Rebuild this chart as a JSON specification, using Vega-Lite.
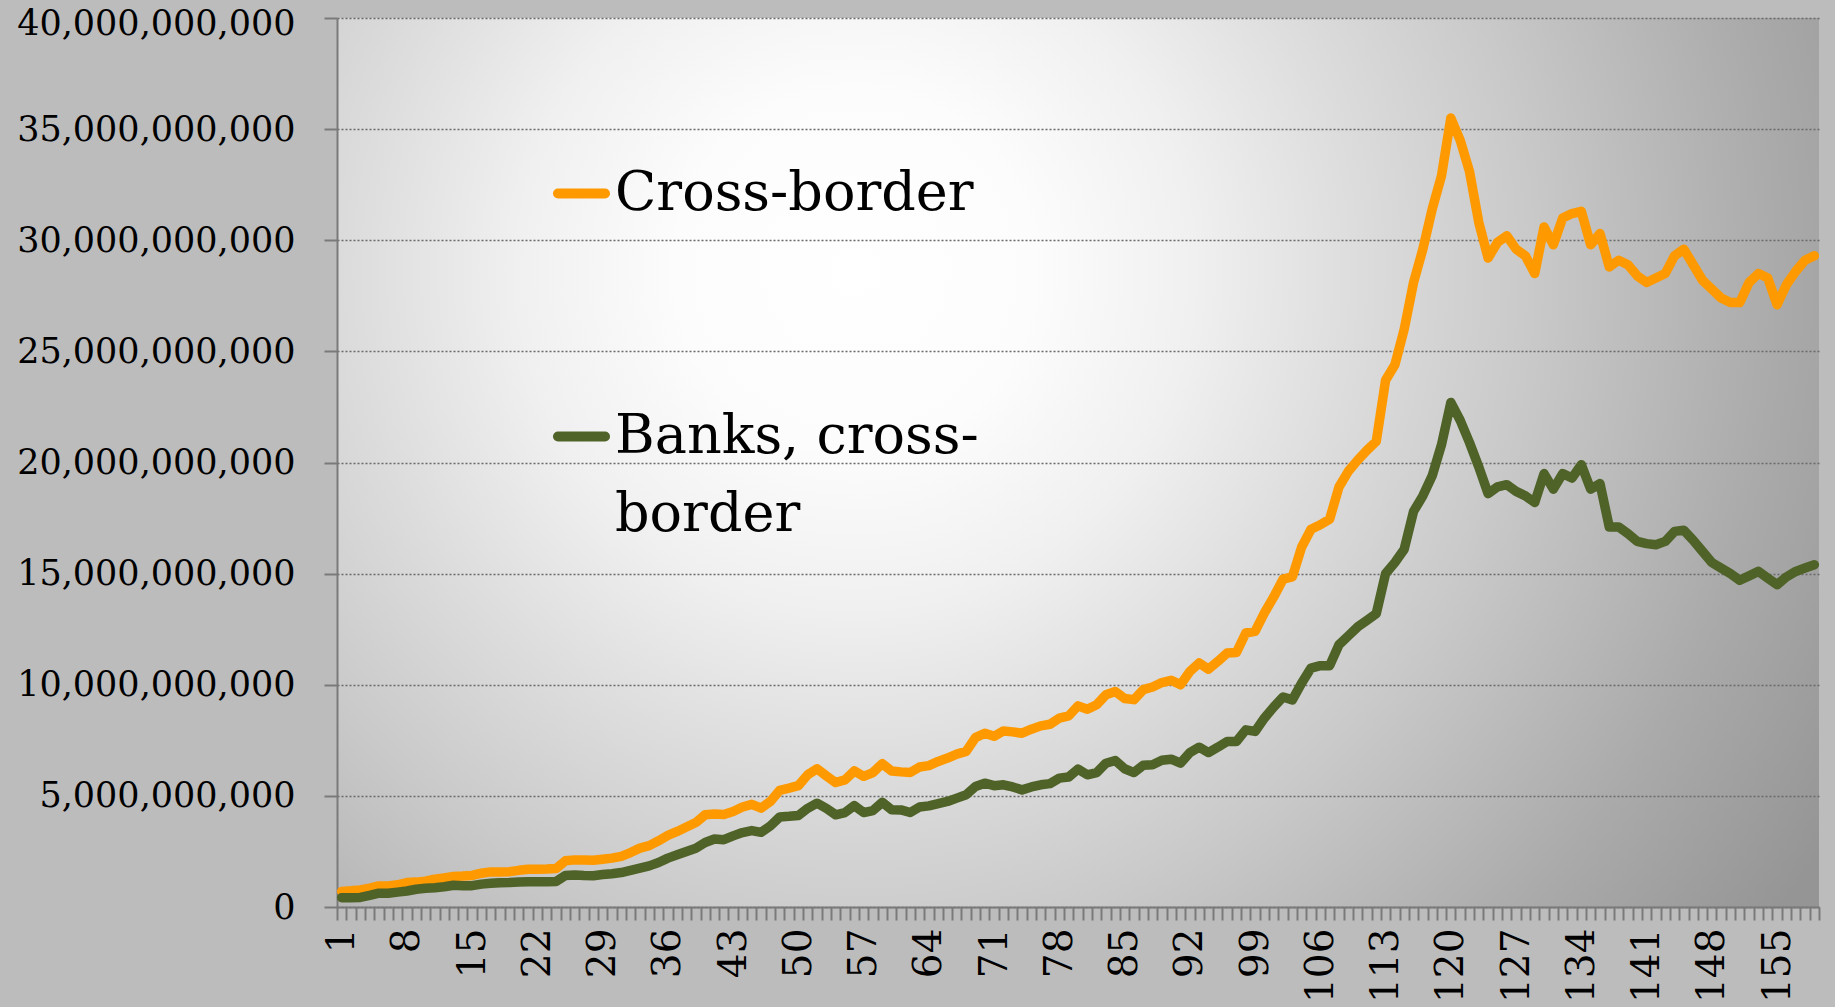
{
  "$schema": "https://vega.github.io/schema/vega-lite/v6.json",
  "width": 1482,
  "height": 889,
  "autosize": {"type": "none"},
  "padding": {"left": 337, "top": 18, "right": 16, "bottom": 100},
  "background": "#bcbcbc",
  "config": {
    "font": "DejaVu Serif",
    "view": {
      "stroke": null,
      "fill": {"gradient": "radial", "x1": 0.35, "y1": 0.37, "r1": 0, "x2": 0.35, "y2": 0.37, "r2": 0.76,
        "stops": [
          {"offset": 0, "color": "#ffffff"},
          {"offset": 0.16, "color": "#fcfcfc"},
          {"offset": 0.3, "color": "#f0f0f0"},
          {"offset": 0.45, "color": "#dcdcdc"},
          {"offset": 0.6, "color": "#c9c9c9"},
          {"offset": 0.82, "color": "#aaaaaa"},
          {"offset": 1, "color": "#959595"}
        ]}
    }
  },
  "data": {"values": [
    {"t":1,"Cross-border":700000000,"Banks, cross-border":420000000},
    {"t":2,"Cross-border":730000000,"Banks, cross-border":420000000},
    {"t":3,"Cross-border":770000000,"Banks, cross-border":430000000},
    {"t":4,"Cross-border":850000000,"Banks, cross-border":520000000},
    {"t":5,"Cross-border":950000000,"Banks, cross-border":620000000},
    {"t":6,"Cross-border":950000000,"Banks, cross-border":620000000},
    {"t":7,"Cross-border":1000000000,"Banks, cross-border":670000000},
    {"t":8,"Cross-border":1100000000,"Banks, cross-border":720000000},
    {"t":9,"Cross-border":1120000000,"Banks, cross-border":800000000},
    {"t":10,"Cross-border":1160000000,"Banks, cross-border":840000000},
    {"t":11,"Cross-border":1250000000,"Banks, cross-border":870000000},
    {"t":12,"Cross-border":1310000000,"Banks, cross-border":910000000},
    {"t":13,"Cross-border":1370000000,"Banks, cross-border":980000000},
    {"t":14,"Cross-border":1390000000,"Banks, cross-border":960000000},
    {"t":15,"Cross-border":1420000000,"Banks, cross-border":960000000},
    {"t":16,"Cross-border":1520000000,"Banks, cross-border":1030000000},
    {"t":17,"Cross-border":1580000000,"Banks, cross-border":1070000000},
    {"t":18,"Cross-border":1580000000,"Banks, cross-border":1090000000},
    {"t":19,"Cross-border":1590000000,"Banks, cross-border":1100000000},
    {"t":20,"Cross-border":1650000000,"Banks, cross-border":1120000000},
    {"t":21,"Cross-border":1700000000,"Banks, cross-border":1140000000},
    {"t":22,"Cross-border":1700000000,"Banks, cross-border":1140000000},
    {"t":23,"Cross-border":1710000000,"Banks, cross-border":1140000000},
    {"t":24,"Cross-border":1730000000,"Banks, cross-border":1150000000},
    {"t":25,"Cross-border":2080000000,"Banks, cross-border":1420000000},
    {"t":26,"Cross-border":2120000000,"Banks, cross-border":1440000000},
    {"t":27,"Cross-border":2110000000,"Banks, cross-border":1420000000},
    {"t":28,"Cross-border":2100000000,"Banks, cross-border":1410000000},
    {"t":29,"Cross-border":2150000000,"Banks, cross-border":1460000000},
    {"t":30,"Cross-border":2200000000,"Banks, cross-border":1500000000},
    {"t":31,"Cross-border":2280000000,"Banks, cross-border":1550000000},
    {"t":32,"Cross-border":2450000000,"Banks, cross-border":1650000000},
    {"t":33,"Cross-border":2650000000,"Banks, cross-border":1750000000},
    {"t":34,"Cross-border":2760000000,"Banks, cross-border":1850000000},
    {"t":35,"Cross-border":2980000000,"Banks, cross-border":2000000000},
    {"t":36,"Cross-border":3220000000,"Banks, cross-border":2200000000},
    {"t":37,"Cross-border":3400000000,"Banks, cross-border":2350000000},
    {"t":38,"Cross-border":3600000000,"Banks, cross-border":2500000000},
    {"t":39,"Cross-border":3800000000,"Banks, cross-border":2640000000},
    {"t":40,"Cross-border":4150000000,"Banks, cross-border":2900000000},
    {"t":41,"Cross-border":4180000000,"Banks, cross-border":3060000000},
    {"t":42,"Cross-border":4160000000,"Banks, cross-border":3030000000},
    {"t":43,"Cross-border":4300000000,"Banks, cross-border":3200000000},
    {"t":44,"Cross-border":4500000000,"Banks, cross-border":3350000000},
    {"t":45,"Cross-border":4620000000,"Banks, cross-border":3440000000},
    {"t":46,"Cross-border":4450000000,"Banks, cross-border":3360000000},
    {"t":47,"Cross-border":4750000000,"Banks, cross-border":3650000000},
    {"t":48,"Cross-border":5250000000,"Banks, cross-border":4050000000},
    {"t":49,"Cross-border":5350000000,"Banks, cross-border":4080000000},
    {"t":50,"Cross-border":5460000000,"Banks, cross-border":4120000000},
    {"t":51,"Cross-border":5950000000,"Banks, cross-border":4440000000},
    {"t":52,"Cross-border":6220000000,"Banks, cross-border":4670000000},
    {"t":53,"Cross-border":5900000000,"Banks, cross-border":4440000000},
    {"t":54,"Cross-border":5600000000,"Banks, cross-border":4150000000},
    {"t":55,"Cross-border":5720000000,"Banks, cross-border":4250000000},
    {"t":56,"Cross-border":6120000000,"Banks, cross-border":4560000000},
    {"t":57,"Cross-border":5880000000,"Banks, cross-border":4250000000},
    {"t":58,"Cross-border":6050000000,"Banks, cross-border":4340000000},
    {"t":59,"Cross-border":6450000000,"Banks, cross-border":4710000000},
    {"t":60,"Cross-border":6120000000,"Banks, cross-border":4380000000},
    {"t":61,"Cross-border":6080000000,"Banks, cross-border":4370000000},
    {"t":62,"Cross-border":6050000000,"Banks, cross-border":4250000000},
    {"t":63,"Cross-border":6300000000,"Banks, cross-border":4500000000},
    {"t":64,"Cross-border":6360000000,"Banks, cross-border":4550000000},
    {"t":65,"Cross-border":6550000000,"Banks, cross-border":4650000000},
    {"t":66,"Cross-border":6700000000,"Banks, cross-border":4750000000},
    {"t":67,"Cross-border":6880000000,"Banks, cross-border":4900000000},
    {"t":68,"Cross-border":7000000000,"Banks, cross-border":5050000000},
    {"t":69,"Cross-border":7620000000,"Banks, cross-border":5420000000},
    {"t":70,"Cross-border":7820000000,"Banks, cross-border":5570000000},
    {"t":71,"Cross-border":7680000000,"Banks, cross-border":5460000000},
    {"t":72,"Cross-border":7920000000,"Banks, cross-border":5500000000},
    {"t":73,"Cross-border":7880000000,"Banks, cross-border":5400000000},
    {"t":74,"Cross-border":7820000000,"Banks, cross-border":5270000000},
    {"t":75,"Cross-border":8000000000,"Banks, cross-border":5400000000},
    {"t":76,"Cross-border":8150000000,"Banks, cross-border":5500000000},
    {"t":77,"Cross-border":8220000000,"Banks, cross-border":5550000000},
    {"t":78,"Cross-border":8500000000,"Banks, cross-border":5800000000},
    {"t":79,"Cross-border":8600000000,"Banks, cross-border":5850000000},
    {"t":80,"Cross-border":9050000000,"Banks, cross-border":6200000000},
    {"t":81,"Cross-border":8900000000,"Banks, cross-border":5950000000},
    {"t":82,"Cross-border":9100000000,"Banks, cross-border":6050000000},
    {"t":83,"Cross-border":9550000000,"Banks, cross-border":6470000000},
    {"t":84,"Cross-border":9700000000,"Banks, cross-border":6590000000},
    {"t":85,"Cross-border":9380000000,"Banks, cross-border":6220000000},
    {"t":86,"Cross-border":9330000000,"Banks, cross-border":6050000000},
    {"t":87,"Cross-border":9780000000,"Banks, cross-border":6380000000},
    {"t":88,"Cross-border":9900000000,"Banks, cross-border":6400000000},
    {"t":89,"Cross-border":10100000000,"Banks, cross-border":6600000000},
    {"t":90,"Cross-border":10200000000,"Banks, cross-border":6650000000},
    {"t":91,"Cross-border":10000000000,"Banks, cross-border":6470000000},
    {"t":92,"Cross-border":10600000000,"Banks, cross-border":6950000000},
    {"t":93,"Cross-border":10980000000,"Banks, cross-border":7190000000},
    {"t":94,"Cross-border":10700000000,"Banks, cross-border":6950000000},
    {"t":95,"Cross-border":11050000000,"Banks, cross-border":7190000000},
    {"t":96,"Cross-border":11430000000,"Banks, cross-border":7450000000},
    {"t":97,"Cross-border":11450000000,"Banks, cross-border":7450000000},
    {"t":98,"Cross-border":12330000000,"Banks, cross-border":7970000000},
    {"t":99,"Cross-border":12400000000,"Banks, cross-border":7900000000},
    {"t":100,"Cross-border":13230000000,"Banks, cross-border":8500000000},
    {"t":101,"Cross-border":13950000000,"Banks, cross-border":9000000000},
    {"t":102,"Cross-border":14750000000,"Banks, cross-border":9450000000},
    {"t":103,"Cross-border":14850000000,"Banks, cross-border":9320000000},
    {"t":104,"Cross-border":16200000000,"Banks, cross-border":10080000000},
    {"t":105,"Cross-border":17000000000,"Banks, cross-border":10750000000},
    {"t":106,"Cross-border":17200000000,"Banks, cross-border":10860000000},
    {"t":107,"Cross-border":17450000000,"Banks, cross-border":10860000000},
    {"t":108,"Cross-border":18900000000,"Banks, cross-border":11800000000},
    {"t":109,"Cross-border":19600000000,"Banks, cross-border":12200000000},
    {"t":110,"Cross-border":20100000000,"Banks, cross-border":12600000000},
    {"t":111,"Cross-border":20550000000,"Banks, cross-border":12900000000},
    {"t":112,"Cross-border":20950000000,"Banks, cross-border":13200000000},
    {"t":113,"Cross-border":23700000000,"Banks, cross-border":15000000000},
    {"t":114,"Cross-border":24400000000,"Banks, cross-border":15500000000},
    {"t":115,"Cross-border":26000000000,"Banks, cross-border":16100000000},
    {"t":116,"Cross-border":28100000000,"Banks, cross-border":17800000000},
    {"t":117,"Cross-border":29600000000,"Banks, cross-border":18500000000},
    {"t":118,"Cross-border":31400000000,"Banks, cross-border":19400000000},
    {"t":119,"Cross-border":32900000000,"Banks, cross-border":20800000000},
    {"t":120,"Cross-border":35500000000,"Banks, cross-border":22700000000},
    {"t":121,"Cross-border":34500000000,"Banks, cross-border":21900000000},
    {"t":122,"Cross-border":33100000000,"Banks, cross-border":20900000000},
    {"t":123,"Cross-border":30800000000,"Banks, cross-border":19800000000},
    {"t":124,"Cross-border":29200000000,"Banks, cross-border":18600000000},
    {"t":125,"Cross-border":29900000000,"Banks, cross-border":18900000000},
    {"t":126,"Cross-border":30200000000,"Banks, cross-border":19000000000},
    {"t":127,"Cross-border":29600000000,"Banks, cross-border":18700000000},
    {"t":128,"Cross-border":29300000000,"Banks, cross-border":18500000000},
    {"t":129,"Cross-border":28500000000,"Banks, cross-border":18200000000},
    {"t":130,"Cross-border":30600000000,"Banks, cross-border":19500000000},
    {"t":131,"Cross-border":29800000000,"Banks, cross-border":18800000000},
    {"t":132,"Cross-border":31000000000,"Banks, cross-border":19500000000},
    {"t":133,"Cross-border":31200000000,"Banks, cross-border":19300000000},
    {"t":134,"Cross-border":31300000000,"Banks, cross-border":19900000000},
    {"t":135,"Cross-border":29800000000,"Banks, cross-border":18800000000},
    {"t":136,"Cross-border":30300000000,"Banks, cross-border":19050000000},
    {"t":137,"Cross-border":28800000000,"Banks, cross-border":17100000000},
    {"t":138,"Cross-border":29100000000,"Banks, cross-border":17100000000},
    {"t":139,"Cross-border":28900000000,"Banks, cross-border":16800000000},
    {"t":140,"Cross-border":28400000000,"Banks, cross-border":16450000000},
    {"t":141,"Cross-border":28100000000,"Banks, cross-border":16350000000},
    {"t":142,"Cross-border":28300000000,"Banks, cross-border":16300000000},
    {"t":143,"Cross-border":28500000000,"Banks, cross-border":16450000000},
    {"t":144,"Cross-border":29300000000,"Banks, cross-border":16900000000},
    {"t":145,"Cross-border":29600000000,"Banks, cross-border":16950000000},
    {"t":146,"Cross-border":28900000000,"Banks, cross-border":16500000000},
    {"t":147,"Cross-border":28200000000,"Banks, cross-border":16000000000},
    {"t":148,"Cross-border":27800000000,"Banks, cross-border":15500000000},
    {"t":149,"Cross-border":27400000000,"Banks, cross-border":15250000000},
    {"t":150,"Cross-border":27200000000,"Banks, cross-border":15000000000},
    {"t":151,"Cross-border":27200000000,"Banks, cross-border":14700000000},
    {"t":152,"Cross-border":28100000000,"Banks, cross-border":14900000000},
    {"t":153,"Cross-border":28500000000,"Banks, cross-border":15100000000},
    {"t":154,"Cross-border":28300000000,"Banks, cross-border":14800000000},
    {"t":155,"Cross-border":27100000000,"Banks, cross-border":14500000000},
    {"t":156,"Cross-border":28000000000,"Banks, cross-border":14850000000},
    {"t":157,"Cross-border":28600000000,"Banks, cross-border":15100000000},
    {"t":158,"Cross-border":29100000000,"Banks, cross-border":15250000000},
    {"t":159,"Cross-border":29300000000,"Banks, cross-border":15400000000}
  ]},
  "transform": [{"fold": ["Cross-border", "Banks, cross-border"], "as": ["series", "value"]}],
  "encoding": {
    "x": {
      "field": "t", "type": "ordinal", "bandPosition": 0.5,
      "scale": {"type": "band", "paddingInner": 0, "paddingOuter": 0},
      "axis": {
        "title": null, "labelAngle": 270, "labelOverlap": false, "labelBound": false, "labelFlush": false,
        "labelExpr": "(datum.value - 1) % 7 === 0 ? datum.label : ''",
        "labelFont": "DejaVu Serif", "labelFontSize": 39, "labelColor": "#000000", "labelPadding": 8,
        "tickBand": "extent", "tickSize": 13, "tickColor": "#7a7a7a", "tickWidth": 2,
        "domainColor": "#7a7a7a", "domainWidth": 2, "grid": false
      }
    },
    "y": {
      "field": "value", "type": "quantitative",
      "scale": {"domain": [0, 40000000000], "nice": false, "zero": true},
      "axis": {
        "title": null, "format": ",d", "labelLimit": 500,
        "values": [0, 5000000000, 10000000000, 15000000000, 20000000000, 25000000000, 30000000000, 35000000000, 40000000000],
        "labelFont": "DejaVu Serif", "labelFontSize": 35, "labelColor": "#000000", "labelPadding": 29,
        "labelOffset": {"condition": {"test": "datum.value >= 40000000000", "value": 5}, "value": 0},
        "tickSize": 13, "tickColor": "#7a7a7a", "tickWidth": 2,
        "domainColor": "#7a7a7a", "domainWidth": 2,
        "grid": true, "gridColor": "#6a6a6a", "gridDash": [2, 2], "gridWidth": 1.3
      }
    },
    "color": {
      "field": "series", "type": "nominal",
      "scale": {"domain": ["Cross-border", "Banks, cross-border"], "range": ["#FF9900", "#4F6228"]},
      "legend": {
        "orient": "none", "legendX": 216, "legendY": 147, "direction": "vertical", "title": null,
        "symbolType": "stroke", "symbolStrokeWidth": 10, "symbolSize": 2209,
        "labelFont": "DejaVu Serif", "labelFontSize": 54, "labelColor": "#000000", "labelOffset": 5, "labelLimit": 1000,
        "labelExpr": "datum.label === 'Banks, cross-border' ? ['Banks, cross-', 'border'] : datum.label",
        "rowPadding": 187, "padding": 0,
        "encoding": {
          "labels": {"lineHeight": {"value": 78}},
          "symbols": {"strokeCap": {"value": "round"}}
        }
      }
    }
  },
  "layer": [
    {"transform": [{"filter": "datum.series === 'Cross-border'"}],
     "mark": {"type": "line", "strokeWidth": 9.5, "strokeJoin": "round", "strokeCap": "round"}},
    {"transform": [{"filter": "datum.series === 'Banks, cross-border'"}],
     "mark": {"type": "line", "strokeWidth": 9.5, "strokeJoin": "round", "strokeCap": "round"}}
  ]
}
